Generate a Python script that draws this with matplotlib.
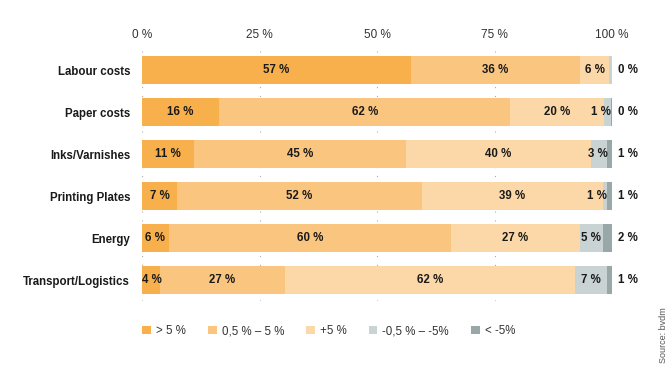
import matplotlib
matplotlib.use("Agg")
import matplotlib.pyplot as plt
from matplotlib.patches import Patch
import numpy as np

plt.rcParams['font.family'] = ['Liberation Sans', 'DejaVu Sans']

categories = ["Labour costs", "Paper costs", "Inks/Varnishes", "Printing Plates",
              "Energy", "Transport/Logistics"]
series_names = ["> 5 %", "0,5 % – 5 %", "+5 %", "-0,5 % – -5%", "< -5%"]
colors = ["#F8B04C", "#FAC57F", "#FCD8A9", "#C9D3D3", "#98A8A8"]

# measured segment widths (percent)
s1 = [57.2, 16.4, 11.1, 7.5, 5.7, 3.8]
s2 = [36.0, 62.0, 45.1, 52.0, 60.0, 26.6]
s3 = [6.2, 19.9, 39.3, 38.6, 27.5, 61.7]
s4 = [0.6, 1.4, 3.5, 0.9, 4.8, 6.9]
s5 = [0.0, 0.4, 1.0, 1.0, 2.0, 1.0]
series = [s1, s2, s3, s4, s5]

# labels as printed
l1 = ["57 %", "16 %", "11 %", "7 %", "6 %", "4 %"]
l2 = ["36 %", "62 %", "45 %", "52 %", "60 %", "27 %"]
l3 = ["6 %", "20 %", "40 %", "39 %", "27 %", "62 %"]
l4 = ["", "1 %", "3 %", "1 %", "5 %", "7 %"]
l5 = ["0 %", "0 %", "1 %", "1 %", "2 %", "1 %"]
labels = [l1, l2, l3, l4]

xticks = [0, 25, 50, 75, 100]
xticklabels = ["0 %", "25 %", "50 %", "75 %", "100 %"]

fig = plt.figure(figsize=(6.7, 3.83), dpi=100)
ax = fig.add_axes([142/670, 1-301/383, 470/670, 252/383])

y = np.arange(len(categories))
left = np.zeros(len(categories))
half = 2.1
for i, (vals, col) in enumerate(zip(series, colors)):
    vals = np.array(vals)
    ax.barh(y, vals, left=left, height=0.667, color=col, zorder=2, linewidth=0)
    if i < 4:
        for j in range(len(categories)):
            txt = labels[i][j]
            if not txt:
                continue
            c = left[j] + vals[j] / 2
            if i == 0:
                c = max(c, left[j] + half)
            if i == 3:
                c = min(c, left[j] + vals[j] - half)
            ax.text(c, y[j], txt, ha='center', va='center', fontsize=8.3,
                    fontweight='bold', color='#1a1a1a', zorder=3)
    left += vals

for j in range(len(categories)):
    ax.text(101.3, y[j], l5[j], ha='left', va='center', fontsize=8.3,
            fontweight='bold', color='#1a1a1a')

ax.set_xlim(0, 100)
ax.set_ylim(5.5, -0.5)
ax.set_yticks(y)
ax.set_yticklabels(categories, fontsize=8.3, fontweight='bold', color='#1a1a1a')
ax.tick_params(axis='y', length=0, pad=8.6)
ax.xaxis.tick_top()
ax.set_xticks(xticks)
ax.set_xticklabels(xticklabels, fontsize=8.5, color='#333333')
ax.tick_params(axis='x', length=0, pad=6)
for v in xticks:
    ax.axvline(v, color='#aaaaaa', linestyle=(0, (1, 7)), linewidth=0.8, zorder=1)
for s in ax.spines.values():
    s.set_visible(False)

handles = [Patch(facecolor=c, edgecolor='none') for c in colors]
fig.legend(handles, series_names, loc='center left', bbox_to_anchor=(132/670, 1-331/383),
           ncol=5, frameon=False, fontsize=8.3, handlelength=0.75, handleheight=0.75,
           handletextpad=0.45, columnspacing=1.9, labelcolor='#333333')

fig.text(663/670, 1-335/383, "Source: bvdm", rotation=90, ha='center', va='center',
         fontsize=6.5, color='#555555')

fig.savefig("out.png", dpi=100)
